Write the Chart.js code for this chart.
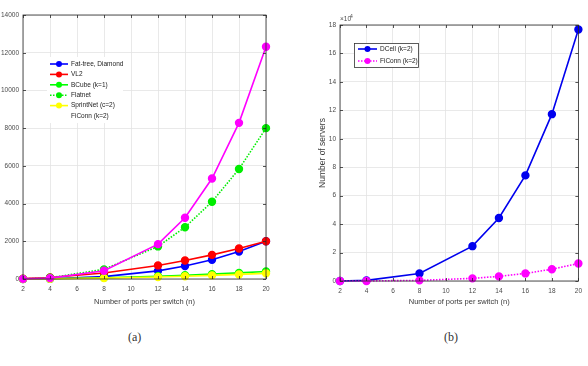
<!DOCTYPE html>
<html><head><meta charset="utf-8">
<script src="https://cdn.jsdelivr.net/npm/chart.js@4/dist/chart.umd.min.js"></script>
<style>
body{margin:0;background:#fff;width:588px;height:366px;position:relative;overflow:hidden}
#c1{position:absolute;left:0;top:0;width:290px;height:310px}
#c2{position:absolute;left:290px;top:0;width:298px;height:310px}
.cap{position:absolute;top:330px;font:12px "Liberation Serif","DejaVu Serif",serif;color:#333}
</style></head><body>
<canvas id="c1" width="290" height="310"></canvas>
<canvas id="c2" width="298" height="310"></canvas>
<div class="cap" style="left:128px">(a)</div>
<div class="cap" style="left:444px">(b)</div>
<script>
const ports = [2, 4, 8, 12, 14, 16, 18, 20];
const fatTree = [2, 16, 128, 432, 686, 1024, 1458, 2000];
const vl2 = [20, 80, 320, 720, 980, 1280, 1620, 2000];
const bcube = [4, 16, 64, 144, 196, 256, 324, 400];
const flatnet = [8, 64, 512, 1728, 2744, 4096, 5832, 8000];
const sprintnet = [3, 12, 48, 108, 147, 192, 243, 300];
const ficonn = [8, 48, 440, 1848, 3248, 5328, 8280, 12320];
const dcell = [42, 420, 5256, 24492, 44310, 74256, 117306, 176820];
const xTitle = 'Number of ports per switch (n)';
const yTitleB = 'Number of servers';

const FONT = '"Liberation Sans", Arial, sans-serif';
const TICK_COLOR = '#4a4a4a';

function ds(label, vals, color, dashed, order) {
  return {
    label, data: ports.map((x, i) => ({x, y: vals[i]})),
    borderColor: color, backgroundColor: color, pointBackgroundColor: color,
    pointBorderColor: color, borderWidth: 1.6, pointRadius: 3.4, pointHoverRadius: 3.4,
    borderDash: dashed ? [1.5, 1.5] : [], tension: 0, order, clip: false
  };
}

const framePlugin = {
  id: 'frame',
  afterDatasetsDraw(chart) {
    const {ctx, chartArea: a, scales} = chart;
    ctx.save();
    ctx.strokeStyle = '#2a2a2a';
    ctx.lineWidth = 0.8;
    ctx.strokeRect(a.left, a.top, a.right - a.left, a.bottom - a.top);
    ctx.beginPath();
    scales.x.ticks.forEach(t => {
      const px = Math.round(scales.x.getPixelForValue(t.value)) + 0.5;
      ctx.moveTo(px, a.bottom); ctx.lineTo(px, a.bottom - 3);
      ctx.moveTo(px, a.top); ctx.lineTo(px, a.top + 3);
    });
    scales.y.ticks.forEach(t => {
      const py = Math.round(scales.y.getPixelForValue(t.value)) + 0.5;
      ctx.moveTo(a.left, py); ctx.lineTo(a.left + 3, py);
      ctx.moveTo(a.right, py); ctx.lineTo(a.right - 3, py);
    });
    ctx.stroke();
    ctx.restore();
  },
  afterDraw(chart) {
    const o = chart.options.plugins.mleg;
    if (!o) return;
    const {ctx} = chart;
    ctx.save();
    if (o.bg) {
      ctx.fillStyle = '#fff';
      ctx.fillRect(o.bg[0], o.bg[1], o.bg[2], o.bg[3]);
      if (o.border) {
        ctx.strokeStyle = '#333'; ctx.lineWidth = 0.8;
        ctx.strokeRect(o.bg[0] + 0.5, o.bg[1] + 0.5, o.bg[2], o.bg[3]);
      }
    }
    ctx.font = o.fs + 'px ' + FONT;
    ctx.textBaseline = 'middle';
    chart.data.datasets.forEach((d, i) => {
      const y = o.y + i * o.dy;
      const showSwatch = !(o.noSwatch && o.noSwatch.includes(i));
      if (showSwatch) {
        ctx.strokeStyle = d.borderColor; ctx.lineWidth = 1.6;
        ctx.setLineDash(d.borderDash || []);
        ctx.beginPath(); ctx.moveTo(o.x, y); ctx.lineTo(o.x + o.w, y); ctx.stroke();
        ctx.setLineDash([]);
        ctx.fillStyle = d.borderColor;
        ctx.beginPath(); ctx.arc(o.x + o.w / 2, y, 3, 0, Math.PI * 2); ctx.fill();
      }
      ctx.fillStyle = '#222';
      ctx.fillText(d.label, o.x + o.w + 3, y);
    });
    if (o.exp) {
      ctx.fillStyle = TICK_COLOR;
      ctx.font = '6.5px ' + FONT;
      ctx.textBaseline = 'alphabetic';
      ctx.fillText('\u00d710', o.exp[0], o.exp[1]);
      ctx.font = '5px ' + FONT;
      ctx.fillText('4', o.exp[0] + 10, o.exp[1] - 3);
    }
    ctx.restore();
  }
};

function scales(ymax, ystep, xh, yw, ycb, ytitle) {
  return {
    x: {
      type: 'linear', min: 2, max: 20,
      ticks: {stepSize: 2, font: {size: 6.5, family: FONT}, color: TICK_COLOR, padding: 6},
      grid: {color: '#e3e3e3', drawTicks: false, lineWidth: 0.8},
      border: {display: false},
      title: {display: true, text: xTitle, font: {size: 7.5, family: FONT}, color: '#3a3a3a', padding: {top: 0, bottom: 4}},
      afterFit(s) { s.height = xh; }
    },
    y: {
      min: 0, max: ymax,
      ticks: {stepSize: ystep, font: {size: 6.5, family: FONT}, color: TICK_COLOR, padding: 4, callback: ycb},
      grid: {color: '#e3e3e3', drawTicks: false, lineWidth: 0.8},
      border: {display: false},
      title: ytitle ? {display: true, text: ytitle, font: {size: 8.5, family: FONT}, color: '#3a3a3a', padding: {top: 4, bottom: 0}} : {display: false},
      afterFit(s) { s.width = yw; }
    }
  };
}

new Chart(document.getElementById('c1'), {
  type: 'line',
  data: {datasets: [
    ds('Fat-tree, Diamond', fatTree, '#0000ff', false, 5),
    ds('VL2', vl2, '#ff0000', false, 4),
    ds('BCube (k=1)', bcube, '#00ff00', false, 3),
    ds('Flatnet', flatnet, '#00ee00', true, 2),
    ds('SprintNet (c=2)', sprintnet, '#ffff00', false, 1),
    ds('FiConn (k=2)', ficonn, '#ff00ff', false, 0)
  ]},
  options: {
    responsive: false, animation: false, devicePixelRatio: 1,
    layout: {padding: {left: 0, top: 15, right: 24, bottom: 0}},
    plugins: {legend: {display: false}, tooltip: {enabled: false},
      mleg: {x: 50, y: 64, dy: 10.4, w: 18, fs: 6.5, bg: [47, 57, 76, 66], noSwatch: [5]}},
    scales: scales(14000, 2000, 31, 23, v => v, null)
  },
  plugins: [framePlugin]
});

new Chart(document.getElementById('c2'), {
  type: 'line',
  data: {datasets: [
    ds('DCell (k=2)', dcell, '#0000ee', false, 1),
    ds('FiConn (k=2)', ficonn, '#ff00ff', true, 0)
  ]},
  options: {
    responsive: false, animation: false, devicePixelRatio: 1,
    layout: {padding: {left: 24, top: 25, right: 6, bottom: 0}},
    plugins: {legend: {display: false}, tooltip: {enabled: false},
      mleg: {x: 68, y: 49, dy: 12, w: 19, fs: 6.5, bg: [64, 43, 64, 24], border: true, exp: [50, 21]}},
    scales: scales(180000, 20000, 29, 26, v => v / 10000, yTitleB)
  },
  plugins: [framePlugin]
});
</script>
</body></html>
